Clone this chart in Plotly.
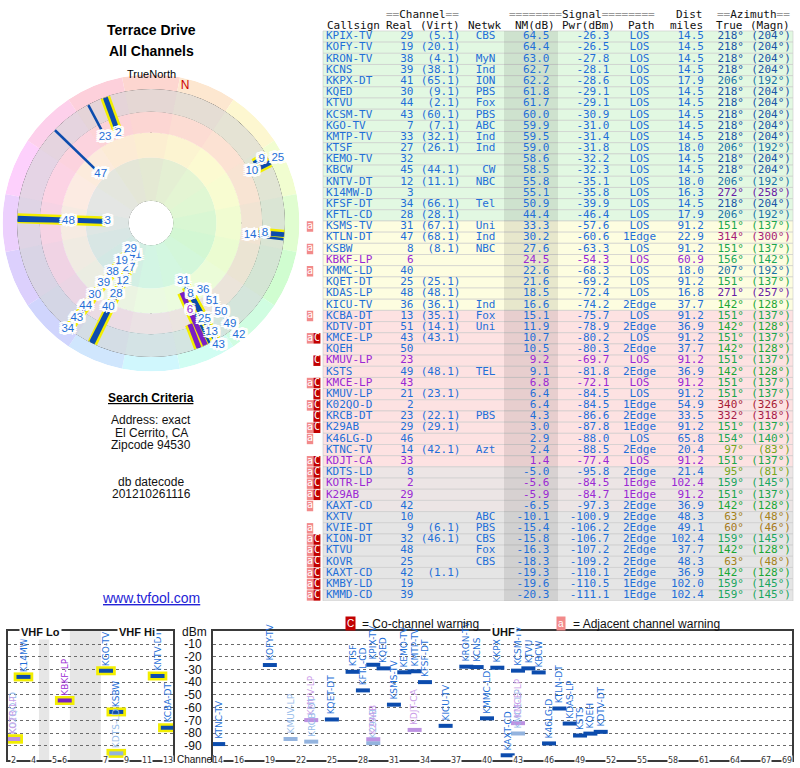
import colorsys
import plotly.graph_objects as go

# ---------------- table data ----------------
callsign = ["KPIX-TV","KOFY-TV","KRON-TV","KCNS","KKPX-DT","KQED","KTVU","KCSM-TV","KGO-TV","KMTP-TV",
            "KTSF","KEMO-TV","KBCW","KNTV-DT","K14MW-D","KFSF-DT","KFTL-CD","KSMS-TV","KTLN-DT","KSBW",
            "KBKF-LP","KMMC-LD","KQET-DT","KDAS-LP","KICU-TV","KCBA-DT","KDTV-DT","KMCE-LP","KQEH","KMUV-LP",
            "KSTS","KMCE-LP","KMUV-LP","K02QO-D","KRCB-DT","K29AB","K46LG-D","KTNC-TV","KDJT-CA","KDTS-LD",
            "KOTR-LP","K29AB","KAXT-CD","KXTV","KVIE-DT","KION-DT","KTVU","KOVR","KAXT-CD","KMBY-LD","KMMD-CD"]
real = [29,19,38,39,41,30,44,43,7,33,
        27,32,45,12,3,34,28,31,47,8,
        6,40,25,48,36,13,51,43,50,23,
        49,43,21,2,23,29,46,14,33,8,
        2,29,42,10,9,32,48,25,42,19,39]
virt = ["5.1","20.1","4.1","38.1","65.1","9.1","2.1","60.1","7.1","32.1",
        "26.1","","44.1","11.1","","66.1","28.1","67.1","68.1","8.1",
        "","","25.1","48.1","36.1","35.1","14.1","43.1","","",
        "48.1","","23.1","","22.1","29.1","","42.1","","",
        "","","","","6.1","46.1","","","1.1","",""]
netwk = ["CBS","","MyN","Ind","ION","PBS","Fox","PBS","ABC","Ind",
         "Ind","","CW","NBC","","Tel","","Uni","Ind","NBC",
         "","","","","Ind","Fox","Uni","","","",
         "TEL","","","","PBS","","","Azt","","",
         "","","","ABC","PBS","CBS","Fox","CBS","","",""]
nm = [64.5,64.4,63.0,62.7,62.2,61.8,61.7,60.0,59.9,59.5,
      59.0,58.6,58.5,55.8,55.1,50.9,44.4,33.3,30.2,27.6,
      24.5,22.6,21.6,18.5,16.6,15.1,11.9,10.7,10.5,9.2,
      9.1,6.8,6.4,6.4,4.3,3.0,2.9,2.4,1.4,-5.0,
      -5.6,-5.9,-6.5,-10.1,-15.4,-15.8,-16.3,-18.3,-19.3,-19.6,-20.3]
pwr = [-26.3,-26.5,-27.8,-28.1,-28.6,-29.1,-29.1,-30.9,-31.0,-31.4,
       -31.8,-32.2,-32.3,-35.1,-35.8,-39.9,-46.4,-57.6,-60.6,-63.3,
       -54.3,-68.3,-69.2,-72.4,-74.2,-75.7,-78.9,-80.2,-80.3,-69.7,
       -81.8,-72.1,-84.5,-84.5,-86.6,-87.8,-88.0,-88.5,-77.4,-95.8,
       -84.5,-84.7,-97.3,-100.9,-106.2,-106.7,-107.2,-109.2,-110.1,-110.5,-111.1]
path = ["LOS","LOS","LOS","LOS","LOS","LOS","LOS","LOS","LOS","LOS",
        "LOS","LOS","LOS","LOS","LOS","LOS","LOS","LOS","1Edge","LOS",
        "LOS","LOS","LOS","LOS","2Edge","LOS","2Edge","LOS","2Edge","LOS",
        "2Edge","LOS","LOS","1Edge","2Edge","1Edge","LOS","2Edge","LOS","2Edge",
        "1Edge","1Edge","2Edge","2Edge","2Edge","2Edge","2Edge","2Edge","2Edge","1Edge","1Edge"]
dist = [14.5,14.5,14.5,14.5,17.9,14.5,14.5,14.5,14.5,14.5,
        18.0,14.5,14.5,18.0,16.3,14.5,17.9,91.2,22.9,91.2,
        60.9,18.0,91.2,16.8,37.7,91.2,36.9,91.2,37.7,91.2,
        36.9,91.2,91.2,54.9,33.5,91.2,65.8,20.4,91.2,21.4,
        102.4,91.2,36.9,48.3,49.1,102.4,37.7,48.3,36.9,102.0,102.4]
az_true = [218,218,218,218,206,218,218,218,218,218,
           206,218,218,206,272,218,206,151,314,151,
           156,207,151,271,142,151,142,151,142,151,
           142,151,151,340,332,151,154,97,151,95,
           159,151,142,63,60,159,142,63,142,159,159]
az_magn = [204,204,204,204,192,204,204,204,204,204,
           192,204,204,192,258,204,192,137,300,137,
           142,192,137,257,128,137,128,137,128,137,
           128,137,137,326,318,137,140,83,137,81,
           145,137,128,48,46,145,128,48,128,145,145]
lp = [0,0,0,0,0,0,0,0,0,0,
      0,0,0,0,0,0,0,0,0,0,
      1,0,0,0,0,0,0,0,0,1,
      0,1,0,0,0,0,0,0,1,0,
      1,1,0,0,0,0,0,0,0,0,0]
warn = ["","","","","","","","","","",
        "","","","","","","","a","","a",
        "","a","","","","a","","aC","","C",
        "","aC","C","aC","C","aC","a","","aC","aC",
        "aC","aC","a","","a","aC","aC","aC","aC","aC","aC"]

# ---------------- chart axes data ----------------
vhf_channels = [2,3,4,5,6,7,8,9,10,11,12,13]
vhf_slot = [0,1,2,4,5,9,10,11,12,13,14,15]
vhf_gaps = [[2.5,3.5],[5.5,8.5]]
vhf_tick_ch = [2,4,5,6,7,9,11,13]
uhf_tick_ch = [14,16,19,22,25,28,31,34,37,40,43,46,49,52,55,58,61,64,67,69]
dbm_ticks = [-10,-20,-30,-40,-50,-60,-70,-80,-90]
radar_rings = [1,2,3,4,5,6]

W, H = 800, 768
MONO = "DejaVu Sans Mono"
SANS = "Liberation Sans"
BLUE_T, PURP_T = "#1f6fd8", "#9a28d4"
BLUE_TF, PURP_TF = "#95bbea", "#cb9de8"
BLUE_L, PURP_L = "#0c4cad", "#7a1fc4"
BLUE_LF, PURP_LF = "#93b3de", "#bd92e2"
YEL = "#f2ee00"

n = len(callsign)
rows = list(range(n))


def hsl(h, s, l, a=None):
    r, g, b = colorsys.hls_to_rgb((h % 360) / 360.0, l, s)
    r, g, b = int(r * 255), int(g * 255), int(b * 255)
    if a is None:
        return f"rgb({r},{g},{b})"
    return f"rgba({r},{g},{b},{a})"


def az_color(a):
    return hsl(a * 1.1 - 25, 0.72, 0.38)


def row_bg(v):
    if v >= 35:
        return "#e2f8e2"
    if v >= 16:
        return "#fdfde0"
    if v >= 0:
        return "#fde2e2"
    if v >= -10:
        return "#ece5e5"
    return "#e5e5e5"


txt_col = [PURP_T if lp[i] else BLUE_T for i in rows]

fig = go.Figure()

# ================= RADAR (polar) =================
wedges = [i * 22.5 for i in range(16)]
fig.add_trace(go.Barpolar(
    r=[0.65] * 16, base=[6] * 16, theta=wedges, width=[22.5] * 16,
    marker=dict(color=[hsl(t + 8, 0.92, 0.905) for t in wedges], line=dict(width=0)),
    subplot="polar", hoverinfo="skip"))
band_base = [0, 1, 2.93, 4.05, 4.98]
band_len = [1, 1.93, 1.12, 0.93, 1.02]
band_col = ["#ffffff", "#e2f8e2", "#fdfde0", "#fde2e2", "#e3e3e3"]
q = [45, 135, 225, 315]
fig.add_trace(go.Barpolar(
    r=[l for l in band_len for _ in q], base=[b for b in band_base for _ in q],
    theta=q * len(band_base), width=[90] * (4 * len(band_base)),
    marker=dict(color=[c for c in band_col for _ in q], line=dict(width=0)),
    subplot="polar", hoverinfo="skip"))
fig.add_trace(go.Barpolar(
    r=[5] * 16, base=[1] * 16, theta=wedges, width=[22.5] * 16,
    marker=dict(color=[hsl(t + 8, 0.9, 0.7, 0.12) for t in wedges], line=dict(width=0)),
    subplot="polar", hoverinfo="skip"))
decl = az_true[0] - az_magn[0]
fig.add_trace(go.Scatterpolar(r=[6.3], theta=[decl], mode="text", text=["N"],
                              textfont=dict(color="#cc0000", size=12, family=SANS),
                              subplot="polar", hoverinfo="skip"))

# station lines on data polar (radial axis = NM dB, reversed)
NM_RING = -29.0
vhf = [r <= 13 for r in real]


def seg(idx, color, width):
    rr, tt = [], []
    for i in idx:
        rr += [nm[i], NM_RING, None]
        tt += [az_true[i], az_true[i], None]
    return go.Scatterpolar(r=rr, theta=tt, mode="lines", line=dict(color=color, width=width),
                           connectgaps=False, subplot="polar2", hoverinfo="skip")


fig.add_trace(seg([i for i in rows if vhf[i]], YEL, 10))
fig.add_trace(seg([i for i in rows if not vhf[i] and not lp[i]], BLUE_L, 2.5))
fig.add_trace(seg([i for i in rows if not vhf[i] and lp[i]], PURP_L, 2.5))
fig.add_trace(seg([i for i in rows if vhf[i] and not lp[i]], BLUE_L, 5))
fig.add_trace(seg([i for i in rows if vhf[i] and lp[i]], PURP_L, 5))

# label stacking along each azimuth cluster (14 px apart, 1.032 px per dB);
# a label is dropped when it would sit beyond the ring or too far (90 px) from its own spot
PXDB = 1.032
STEP = 14 / PXDB
CAP = -40.1
MAXSHIFT = 90 / PXDB
order = sorted(rows, key=lambda i: az_true[i])
clusters = []
for i in order:
    if clusters and az_true[i] - az_true[clusters[-1][-1]] <= 5:
        clusters[-1].append(i)
    else:
        clusters.append([i])
lab_r, lab_t, lab_s, lab_c = [], [], [], []
for cl in clusters:
    prev = None
    for i in sorted(cl, key=lambda k: -nm[k]):
        v = nm[i] if prev is None else min(nm[i], prev - STEP)
        if v < CAP or nm[i] - v > MAXSHIFT:
            continue
        prev = v
        lab_r.append(v); lab_t.append(az_true[i]); lab_s.append(str(real[i])); lab_c.append(txt_col[i])
halo = ", ".join(f"{dx}px {dy}px 0px #fff" for dx, dy in
                 [(2, 0), (-2, 0), (0, 2), (0, -2), (2, 2), (-2, -2), (2, -2), (-2, 2),
                  (3, 0), (-3, 0), (0, 3), (0, -3), (3, 2), (-3, 2), (3, -2), (-3, -2)])
fig.add_trace(go.Scatterpolar(
    r=lab_r, theta=lab_t, mode="text", text=lab_s,
    textfont=dict(color=lab_c, size=11.5, family=SANS, shadow=halo),
    subplot="polar2", hoverinfo="skip"))

# ================= TABLE =================
fig.add_trace(go.Bar(orientation="h", y=rows, x=[470] * n, base=[323] * n, width=1.0,
                     marker=dict(color=[row_bg(v) for v in nm], line=dict(color="#c9c9c9", width=0.6)),
                     xaxis="x4", yaxis="y4", hoverinfo="skip"))
fig.add_trace(go.Bar(orientation="h", y=rows, x=[54] * n, base=[504] * n, width=1.0,
                     marker=dict(color="rgba(0,0,0,0.085)", line=dict(width=0)),
                     xaxis="x4", yaxis="y4", hoverinfo="skip"))
a_rows = [i for i in rows if "a" in warn[i]]
c_rows = [i for i in rows if "C" in warn[i]]
fig.add_trace(go.Bar(orientation="h", y=a_rows, x=[6.4] * len(a_rows), base=[306.8] * len(a_rows), width=0.94,
                     marker=dict(color="#f28a8a", line=dict(width=0)), xaxis="x4", yaxis="y4", hoverinfo="skip"))
fig.add_trace(go.Bar(orientation="h", y=c_rows, x=[7.0] * len(c_rows), base=[313.4] * len(c_rows), width=0.94,
                     marker=dict(color="#c20000", line=dict(width=0)), xaxis="x4", yaxis="y4", hoverinfo="skip"))
fig.add_trace(go.Scatter(x=[310.0] * len(a_rows), y=a_rows, mode="text", text=["a"] * len(a_rows),
                         textposition="middle center", textfont=dict(color="white", size=10, family=MONO),
                         xaxis="x4", yaxis="y4", hoverinfo="skip", cliponaxis=False))
fig.add_trace(go.Scatter(x=[316.9] * len(c_rows), y=c_rows, mode="text", text=["C"] * len(c_rows),
                         textposition="middle center", textfont=dict(color="white", size=10, family=MONO),
                         xaxis="x4", yaxis="y4", hoverinfo="skip", cliponaxis=False))

columns = [
    (326, "middle right", callsign, txt_col),
    (413.5, "middle left", [str(v) for v in real], txt_col),
    (460.5, "middle left", [f"({v})" if v else "" for v in virt], txt_col),
    (495.5, "middle left", netwk, txt_col),
    (549.5, "middle left", [f"{v:.1f}" for v in nm], txt_col),
    (609.5, "middle left", [f"{v:.1f}" for v in pwr], txt_col),
    (639.5, "middle center", path, txt_col),
    (704, "middle left", [f"{v:.1f}" for v in dist], txt_col),
    (744, "middle left", [f"{v}°" for v in az_true], [az_color(a) for a in az_true]),
    (791, "middle left", [f"({v}°)" for v in az_magn], [az_color(a) for a in az_true]),
]
for x0, pos, texts, cols in columns:
    fig.add_trace(go.Scatter(x=[x0] * n, y=rows, mode="text", text=texts, textposition=pos,
                             textfont=dict(color=cols, size=11, family=MONO),
                             xaxis="x4", yaxis="y4", hoverinfo="skip", cliponaxis=False))

G = "<span style='color:#9a9a9a'>%s</span>"
hdr1 = [(460, G % "==" + "Channel" + G % "=="),
        (655.5, G % "========" + "Signal" + G % "========"),
        (704, "Dist"),
        (791, G % "==" + "Azimuth" + G % "==")]
hdr2 = [(413.5, "Real"), (460.5, "(Virt)"), (502, "Netwk"), (555.5, "NM(dB)"),
        (615.5, "Pwr(dBm)"), (655.5, "Path"), (704, "miles"), (744, "True"), (791, "(Magn)")]
for x0, t in hdr1:
    fig.add_annotation(x=x0, y=-2, xref="x4", yref="y4", text=t, showarrow=False, xanchor="right",
                       yanchor="middle", borderpad=0, font=dict(size=11, family=MONO, color="#111"))
for x0, t in hdr2:
    fig.add_annotation(x=x0, y=-1, xref="x4", yref="y4", text=t, showarrow=False, xanchor="right",
                       yanchor="middle", borderpad=0, font=dict(size=11, family=MONO, color="#111"))
fig.add_annotation(x=326, y=-1, xref="x4", yref="y4", text="Callsign", showarrow=False, xanchor="left",
                   yanchor="middle", borderpad=0, font=dict(size=11, family=MONO, color="#111"))

# ================= SIGNAL CHART (VHF / UHF) =================
slot_of = dict(zip(vhf_channels, vhf_slot))
shown = [i for i in rows if pwr[i] >= -100]


def bar_colors(idx):
    out = []
    for i in idx:
        faded = "C" in warn[i]
        if lp[i]:
            out.append(PURP_LF if faded else PURP_L)
        else:
            out.append(BLUE_LF if faded else BLUE_L)
    return out


def lab_color(i):
    faded = "C" in warn[i]
    if lp[i]:
        return PURP_TF if faded else PURP_T
    return BLUE_TF if faded else BLUE_T


v_idx = [i for i in shown if real[i] <= 13]
u_idx = [i for i in shown if real[i] > 13]
for g in vhf_gaps:
    fig.add_shape(type="rect", xref="x2", yref="y2 domain", x0=g[0], x1=g[1], y0=0, y1=1,
                  fillcolor="#e6e6e6", line=dict(width=0), layer="below")

vx = [slot_of[real[i]] for i in v_idx]
fig.add_trace(go.Scatter(x=vx, y=[pwr[i] for i in v_idx], mode="markers",
                         marker=dict(symbol="line-ew", size=14, line=dict(width=9, color=YEL)),
                         xaxis="x2", yaxis="y2", hoverinfo="skip"))
fig.add_trace(go.Scatter(x=vx, y=[pwr[i] for i in v_idx], mode="markers",
                         marker=dict(symbol="line-ew", size=10, line=dict(width=4, color=bar_colors(v_idx))),
                         xaxis="x2", yaxis="y2", hoverinfo="skip"))
fig.add_trace(go.Scatter(x=[real[i] for i in u_idx], y=[pwr[i] for i in u_idx], mode="markers",
                         marker=dict(symbol="line-ew", size=10, line=dict(width=4, color=bar_colors(u_idx))),
                         xaxis="x3", yaxis="y3", hoverinfo="skip"))

for i in shown:
    if real[i] <= 13:
        xr, yr, xv = "x2", "y2", slot_of[real[i]]
    else:
        xr, yr, xv = "x3", "y3", real[i]
    fig.add_annotation(x=xv, y=pwr[i], xref=xr, yref=yr, text=callsign[i], showarrow=False,
                       textangle=-90, xanchor="center", yanchor="bottom", yshift=4, borderpad=0,
                       font=dict(size=9, family="DejaVu Sans", color=lab_color(i)))

for c in vhf_tick_ch:
    fig.add_annotation(x=slot_of[c], y=0, xref="x2", yref="y2 domain", text=str(c), showarrow=False,
                       yanchor="middle", bgcolor="white", borderpad=0,
                       font=dict(size=8, family="DejaVu Sans", color="#333"))
for c in uhf_tick_ch:
    fig.add_annotation(x=c, y=0, xref="x3", yref="y3 domain", text=str(c), showarrow=False,
                       yanchor="middle", bgcolor="white", borderpad=0,
                       font=dict(size=8, family="DejaVu Sans", color="#333"))


def pann(x, y, text, size=12, color="#000", bold=False, under=False, **kw):
    f = dict(size=size, color=color, family=SANS)
    if under:
        f["lineposition"] = "under"
    fig.add_annotation(x=x / W, y=1 - y / H, xref="paper", yref="paper",
                       text=f"<b>{text}</b>" if bold else text, showarrow=False,
                       xanchor=kw.pop("xanchor", "center"), yanchor="middle", font=f, **kw)


pann(40, 632, "VHF Lo", 11, "#111", bold=True, bgcolor="white", borderpad=1)
pann(137, 632, "VHF Hi", 11, "#111", bold=True, bgcolor="white", borderpad=1)
pann(503, 632, "UHF", 11, "#111", bold=True, bgcolor="white", borderpad=1)
pann(194, 632, "dBm", 12, "#111")
pann(195, 759, "Channel", 10, "#111")

# legend icons
pann(350.5, 623.5, "C", 10, "white", bgcolor="#c20000", borderpad=1)
pann(360, 624, "= Co-channel warning", 12, "#111", xanchor="left")
pann(561, 623.5, "a", 10, "white", bgcolor="#f28a8a", borderpad=1)
pann(571, 624, "= Adjacent channel warning", 12, "#111", xanchor="left")

# left column texts
pann(151, 30, "Terrace Drive", 14, "#000", bold=True)
pann(151, 51, "All Channels", 14, "#000", bold=True)
pann(151, 74, "TrueNorth", 11, "#000")
pann(151, 398, "Search Criteria", 12, "#000", bold=True, under=True)
pann(151, 420, "Address: exact", 12, "#111")
pann(151, 432.5, "El Cerrito, CA", 12, "#111")
pann(151, 444.5, "Zipcode 94530", 12, "#111")
pann(151, 482, "db datecode", 12, "#111")
pann(151, 494, "201210261116", 12, "#111")
pann(151, 598, "www.tvfool.com", 14, "#2424d6", under=True)

# ================= LAYOUT =================
PR = 148.5
pol_dom = dict(x=[(151 - PR) / W, (151 + PR) / W], y=[1 - (223 + PR) / H, 1 - (223 - PR) / H])
box_axis = dict(showline=True, linecolor="#3a3a3a", linewidth=2, mirror=True, zeroline=False)
ydom = [1 - 760 / H, 1 - 631 / H]
fig.update_layout(
    width=W, height=H, margin=dict(l=0, r=0, t=0, b=0),
    paper_bgcolor="white", plot_bgcolor="white", showlegend=False, barmode="overlay",
    polar=dict(
        domain=pol_dom, bgcolor="rgba(0,0,0,0)", barmode="overlay",
        angularaxis=dict(rotation=90, direction="clockwise", tickvals=[0, 90, 180, 270],
                         showticklabels=False, ticks="", showline=False, showgrid=True,
                         gridcolor="#000", griddash="dot", gridwidth=1),
        radialaxis=dict(range=[0, 6.65], tickvals=radar_rings, showticklabels=False, ticks="",
                        showline=False, showgrid=True, gridcolor="#222", gridwidth=1)),
    polar2=dict(
        domain=pol_dom, bgcolor="rgba(0,0,0,0)",
        angularaxis=dict(rotation=90, direction="clockwise", showticklabels=False, ticks="",
                         showline=False, showgrid=False),
        radialaxis=dict(range=[95.5, -43.0], showticklabels=False, ticks="", showline=False,
                        showgrid=False)),
    xaxis2=dict(domain=[8 / W, 173 / W], range=[-0.5, 15.5], anchor="y2", showticklabels=False,
                ticks="", showgrid=False, **box_axis),
    yaxis2=dict(domain=ydom, range=[-101, 0.2], anchor="x2", showticklabels=False, ticks="",
                tickvals=dbm_ticks, showgrid=True, gridcolor="#6a6a6a", griddash="dot", gridwidth=1,
                **box_axis),
    xaxis3=dict(domain=[213 / W, 792 / W], range=[13.5, 69.5], anchor="y3", showticklabels=False,
                ticks="", showgrid=False, **box_axis),
    yaxis3=dict(domain=ydom, range=[-101, 0.2], anchor="x3", tickvals=dbm_ticks,
                ticktext=[str(v) for v in dbm_ticks], ticks="", ticklabelstandoff=7,
                tickfont=dict(size=12, family=SANS, color="#111"),
                showgrid=True, gridcolor="#6a6a6a", griddash="dot", gridwidth=1, **box_axis),
    xaxis4=dict(domain=[300 / W, 1.0], range=[300, 800], anchor="y4", visible=False),
    yaxis4=dict(domain=[1 - 601 / H, 1 - 8.6 / H], range=[50.5, -2.5], anchor="x4", visible=False),
)

fig.write_html("out.html", config={"displayModeBar": False},
               post_script="document.body.style.margin='0px';document.body.style.padding='0px';")
